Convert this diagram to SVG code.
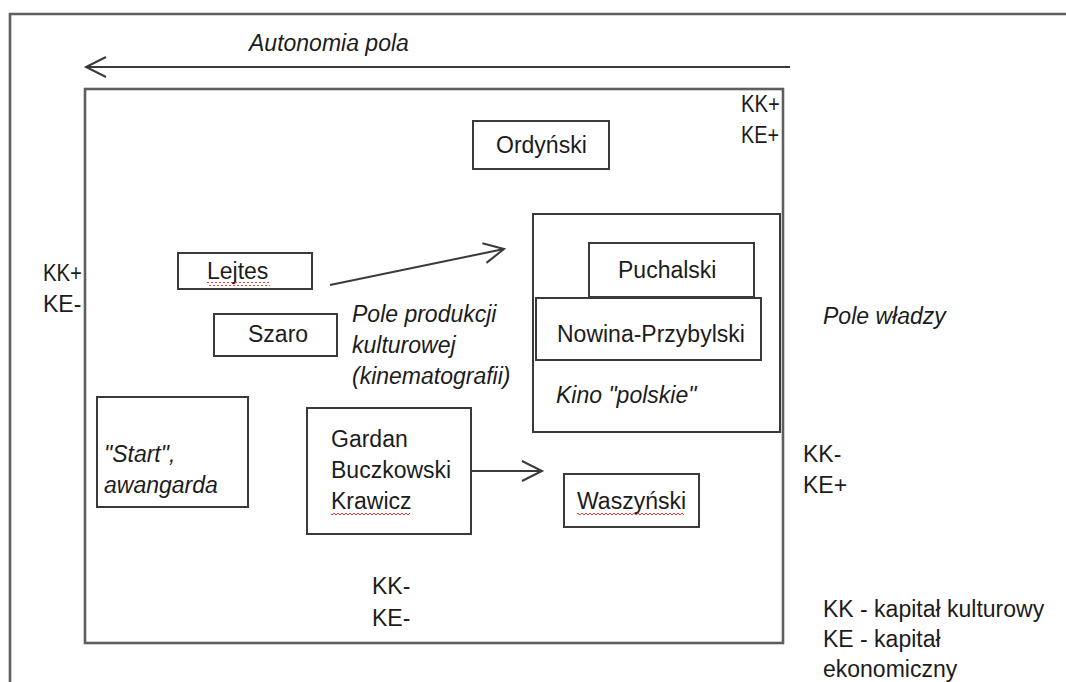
<svg xmlns="http://www.w3.org/2000/svg" width="1066" height="682" viewBox="0 0 1066 682">
<defs>
<style>
text{font-family:"Liberation Sans",Arial,sans-serif;font-size:23px;fill:#1c1c1c}
.it{font-style:italic}
.frame{fill:none;stroke:#5e5e5e;stroke-width:2.6}
.box{fill:#fff;stroke:#3a3a3a;stroke-width:2}
.conn{fill:none;stroke:#3a3a3a;stroke-width:2}
</style>
<marker id="chev" markerUnits="userSpaceOnUse" markerWidth="24" markerHeight="24" refX="21" refY="11" orient="auto" viewBox="0 0 24 22">
<path d="M1,1 L21,11 L1,21" fill="none" stroke="#3a3a3a" stroke-width="2"/>
</marker>
<pattern id="sq" width="4" height="4" patternUnits="userSpaceOnUse">
<path d="M0,3 L2,1 L4,3" fill="none" stroke="#e8282a" stroke-width="0.9"/>
</pattern>
</defs>
<rect width="1066" height="682" fill="#fff"/>

<g id="outer-frame">
<path class="frame" d="M10,682 V14 H1066"/>
</g>

<g id="autonomy">
<text class="it" x="249" y="51">Autonomia pola</text>
</g>

<g id="field-of-power-frame">
<rect class="frame" x="85" y="89" width="698" height="554"/>
</g>

<g id="labels">
<text x="741" y="112" textLength="39" lengthAdjust="spacingAndGlyphs">KK+</text>
<text x="741" y="143" textLength="38" lengthAdjust="spacingAndGlyphs">KE+</text>
<text x="43" y="281" textLength="39" lengthAdjust="spacingAndGlyphs">KK+</text>
<text x="43" y="312">KE-</text>
<text x="803" y="462">KK-</text>
<text x="803" y="493">KE+</text>
<text x="372" y="594">KK-</text>
<text x="372" y="626">KE-</text>
<text class="it" x="823" y="324">Pole władzy</text>
<text class="it" x="352" y="322">Pole produkcji</text>
<text class="it" x="352" y="353">kulturowej</text>
<text class="it" x="352" y="384">(kinematografii)</text>
<text x="823" y="617">KK - kapitał kulturowy</text>
<text x="823" y="647">KE - kapitał</text>
<text x="823" y="677">ekonomiczny</text>
</g>

<g id="ordynski">
<rect class="box" x="473" y="121" width="136" height="48"/>
<text x="496" y="153">Ordyński</text>
</g>

<g id="kino-polskie">
<rect class="box" x="533" y="214" width="247" height="218"/>
<text class="it" x="556" y="403">Kino "polskie"</text>
</g>

<g id="puchalski">
<rect class="box" x="589" y="243" width="165" height="54"/>
<text x="618" y="278">Puchalski</text>
</g>

<g id="nowina-przybylski">
<rect class="box" x="536" y="298" width="225" height="62"/>
<text x="557" y="342">Nowina-Przybylski</text>
</g>

<g id="lejtes">
<rect class="box" x="178" y="253" width="134" height="36"/>
<text x="207" y="279">Lejtes</text>
<rect x="207" y="282" width="63" height="4" fill="url(#sq)"/>
</g>

<g id="szaro">
<rect class="box" x="214" y="314" width="123" height="42"/>
<text x="248" y="342">Szaro</text>
</g>

<g id="start">
<rect class="box" x="97" y="397" width="151" height="110"/>
<text class="it" x="104" y="462">"Start",</text>
<text class="it" x="104" y="493">awangarda</text>
</g>

<g id="gardan">
<rect class="box" x="307" y="408" width="164" height="126"/>
<text x="331" y="447">Gardan</text>
<text x="331" y="478">Buczkowski</text>
<text x="331" y="509">Krawicz</text>
<rect x="331" y="513" width="79" height="4" fill="url(#sq)"/>
</g>

<g id="waszynski">
<rect class="box" x="564" y="474" width="135" height="53"/>
<text x="577" y="509">Waszyński</text>
<rect x="577" y="513" width="107" height="4" fill="url(#sq)"/>
</g>

<g id="connectors">
<line class="conn" x1="790" y1="67" x2="86" y2="67" marker-end="url(#chev)"/>
<line class="conn" x1="330" y1="285" x2="504" y2="249" marker-end="url(#chev)"/>
<line class="conn" x1="471" y1="471" x2="542" y2="471" marker-end="url(#chev)"/>
</g>
</svg>
